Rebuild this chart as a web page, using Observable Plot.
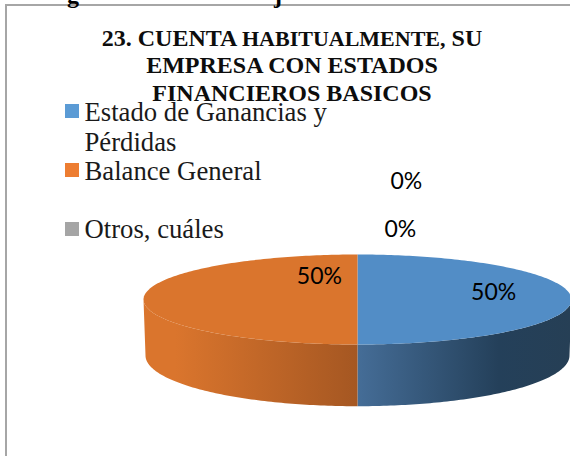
<!DOCTYPE html>
<html>
<head>
<meta charset="utf-8">
<script src="https://cdn.jsdelivr.net/npm/d3@7"></script>
<script src="https://cdn.jsdelivr.net/npm/@observablehq/plot@0.6"></script>
<style>
html,body{margin:0;padding:0;background:#fff;overflow:hidden}
#root{position:relative;width:570px;height:456px;overflow:hidden}
#root svg{position:absolute;left:0;top:0}
.frame{position:absolute;left:5px;top:4px;width:600px;height:500px;border:2px solid #a6a6a6;box-sizing:border-box}
.cut{position:absolute;font:bold 24px "Liberation Serif",serif;color:#000;line-height:20px;top:-15px}
.title{position:absolute;left:40px;width:504px;text-align:center;font:bold 24px "Liberation Serif",serif;color:#0d0d0d;white-space:nowrap;line-height:27.5px;top:24.5px}
.title small{font-size:22px}
.leg{position:absolute;font:26.7px "Liberation Serif",serif;color:#1a1a1a;white-space:nowrap;left:84.5px;line-height:30px}
.sw{position:absolute;left:65px;width:14px;height:14px}
</style>
</head>
<body>
<div id="root"></div>
<script>
const categories = ["Estado de Ganancias y Pérdidas", "Balance General", "", "Otros, cuáles"];
const values = [50, 50, 0, 0];
const topColors = ["#528dc6", "#da752d", "#a5a5a5", "#ffc000"];
const legendColors = ["#5b9bd5", "#ed7d31", "#a5a5a5"];
// label anchors, in units of the pie's radius (horizontal) and tilted radius (vertical)
const labelX = [0.636, -0.178, 0.228, 0.2];
const labelY = [-0.155, -0.51, -2.62, -1.55];

const pie = d3.pie().sort(null).value(d => d)(values);
const STEP = 2 * Math.PI / 360;
const arcPts = (a0, a1, f) => d3.range(a0, a1 + STEP / 2, STEP).map(f);
const top_ = a => ({u: Math.sin(a), v: -Math.cos(a)});
const base = a => ({u: 212 / 214 * Math.sin(a), v: 56 / 45 - 50.7 / 45 * Math.cos(a)});

const faces = pie.filter(s => s.endAngle > s.startAngle).map(s => [
  {u: 0, v: 0}, ...arcPts(s.startAngle, s.endAngle, top_)
]);
const wall = (a0, a1) => [...arcPts(a0, a1, top_), ...arcPts(a0, a1, base).reverse()];
const wallBlue = wall(pie[0].startAngle + Math.PI / 2, pie[0].endAngle);
const wallOrange = wall(pie[1].startAngle, pie[1].startAngle + Math.PI / 2);

const grad = (id, stops) => () => {
  const d = d3.create("svg:defs");
  const g = d.append("linearGradient").attr("id", id).attr("x1", 0).attr("x2", 1).attr("y1", 0).attr("y2", 0);
  stops.forEach(([o, c]) => g.append("stop").attr("offset", o).attr("stop-color", c));
  return d.node();
};

const chart = Plot.plot({
  width: 570, height: 456,
  margin: 0,
  x: {domain: [-357 / 214, 213 / 214], axis: null},
  y: {domain: [-299 / 45, 157 / 45], reverse: true, axis: null},
  style: {background: "transparent", overflow: "visible"},
  marks: [
    grad("gb", [[0, "#456d97"], [0.66, "#24405a"], [1, "#263f55"]]),
    grad("go", [[0, "#da752d"], [0.15, "#da752d"], [1, "#a55722"]]),
    Plot.line(wallBlue, {x: "u", y: "v", fill: "url(#gb)", stroke: null, curve: "linear"}),
    Plot.line(wallOrange, {x: "u", y: "v", fill: "url(#go)", stroke: null, curve: "linear"}),
    Plot.line(faces[0], {x: "u", y: "v", fill: topColors[0], stroke: null}),
    Plot.line(faces[1], {x: "u", y: "v", fill: topColors[1], stroke: null}),
    Plot.text(values, {
      x: (d, i) => labelX[i], y: (d, i) => labelY[i],
      text: d => `${d}%`, fontFamily: "Lato, Carlito, sans-serif", fontSize: 23, fill: "#000"
    })
  ]
});

const root = document.getElementById("root");
root.innerHTML = `
  <div class="frame"></div>
  <div class="cut" style="left:67px">g</div>
  <div class="cut" style="left:274px">j</div>`;
root.appendChild(chart);
const add = html => root.insertAdjacentHTML("beforeend", html);
add(`<div class="title">23. CUENTA <small>HABITUALMENTE,</small> SU<br>EMPRESA CON ESTADOS<br>FINANCIEROS BASICOS</div>`);
const swTop = [104, 163, 222];
[0, 1, 3].forEach((c, i) => add(`<div class="sw" style="top:${swTop[i]}px;background:${legendColors[i]}"></div>`));
add(`<div class="leg" style="top:97px">Estado de Ganancias y<br>Pérdidas</div>`);
add(`<div class="leg" style="top:156px">${categories[1]}</div>`);
add(`<div class="leg" style="top:214px">${categories[3]}</div>`);
</script>
</body>
</html>
